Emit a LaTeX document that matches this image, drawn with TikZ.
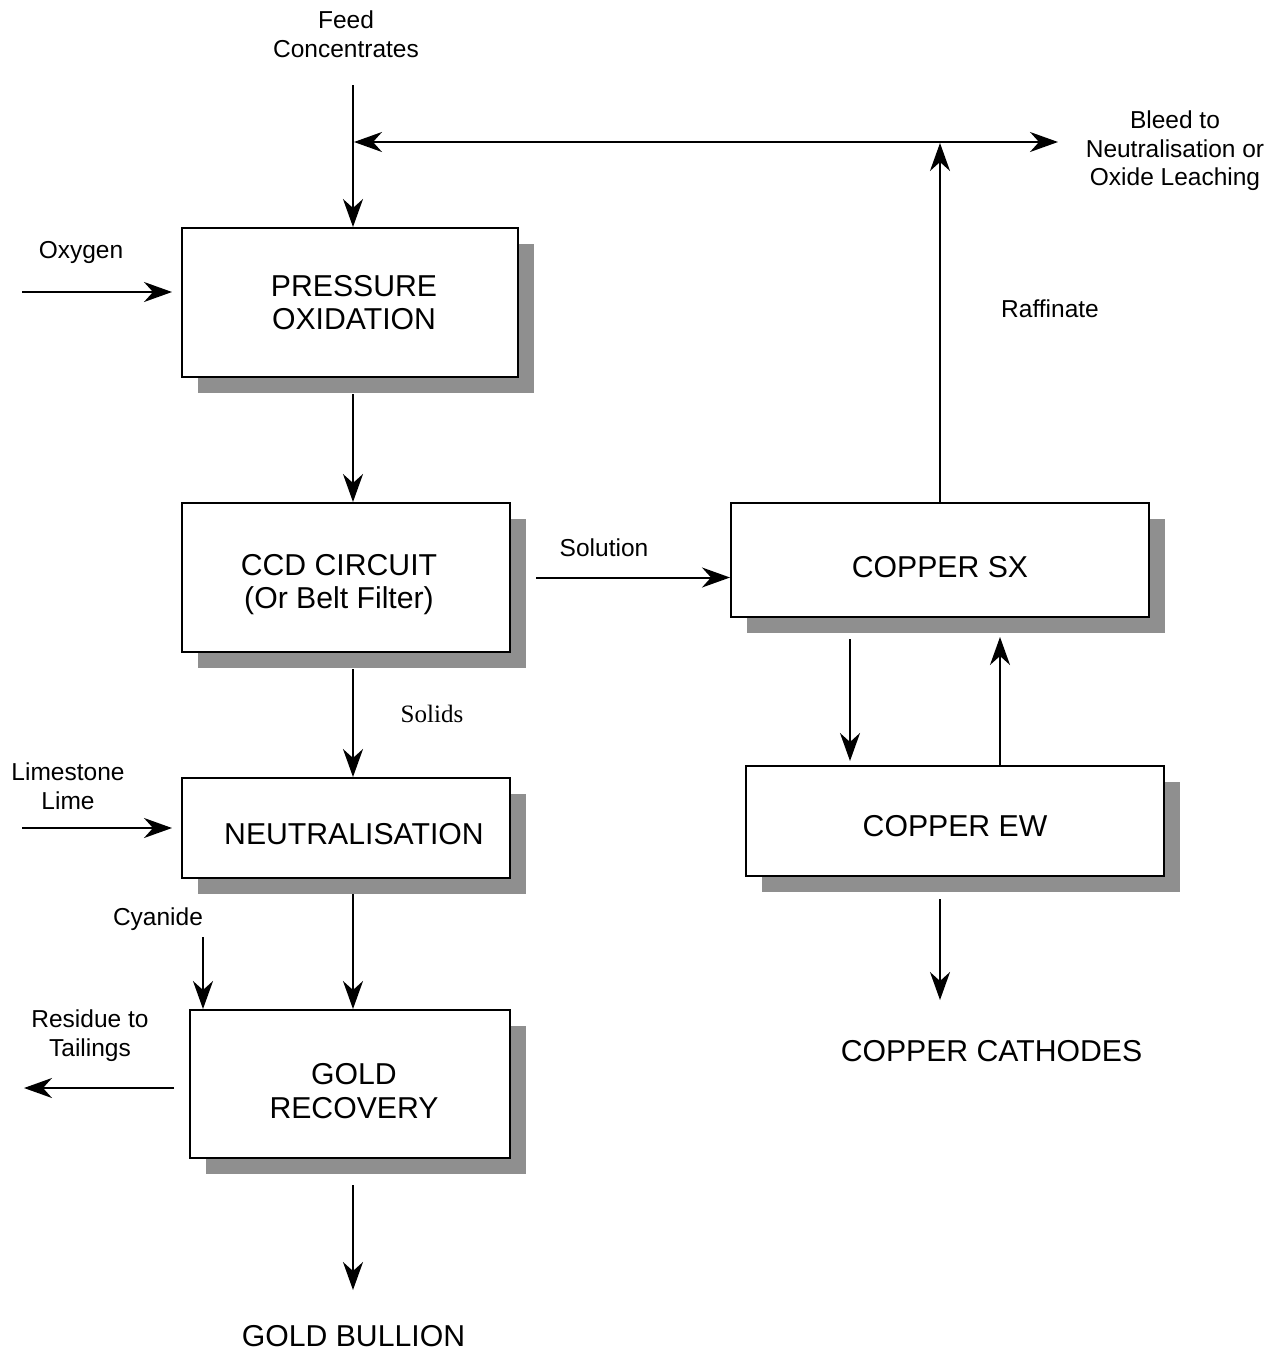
\documentclass[tikz,border=0pt]{standalone}
\usepackage{fontspec}
\setmainfont{Liberation Sans}
\newfontfamily\timesfont{Liberation Serif}
\usetikzlibrary{arrows.meta,shadows}
\definecolor{shadowgray}{HTML}{8F8F8F}
\newcommand\unitfont{\fontsize{30.2}{33.5}\selectfont}
\newcommand\tagfont{\fontsize{24.5}{28.5}\selectfont}
\begin{document}
\begin{tikzpicture}[x=1pt,y=-1pt,
  flowtip/.tip={Stealth[length=28pt,width=20pt,inset=9pt]},
  unit/.style={draw, line width=2pt, fill=white, inner sep=0pt,
    drop shadow={shadow xshift=16pt, shadow yshift=-16pt, fill=shadowgray, opacity=1}},
  unittext/.style={align=center, font=\unitfont, inner sep=0pt},
  flow/.style={line width=2pt, -flowtip},
  twoway/.style={line width=2pt, flowtip-flowtip},
  tag/.style={font=\tagfont, align=center, inner sep=0pt}]
\useasboundingbox (0,0) rectangle (1282,1350);

% process units
\node[unit, minimum width=336pt, minimum height=149pt] (po)   at (350,302.5) {};
\node[unit, minimum width=328pt, minimum height=149pt] (ccd)  at (346,577.5) {};
\node[unit, minimum width=328pt, minimum height=100pt] (neut) at (346,828)   {};
\node[unit, minimum width=320pt, minimum height=148pt] (gold) at (350,1084)  {};
\node[unit, minimum width=418pt, minimum height=114pt] (sx)   at (940,560)   {};
\node[unit, minimum width=418pt, minimum height=110pt] (ew)   at (955,821)   {};

% unit names
\node[unittext] (po-t)   at (354,302.5) {PRESSURE\\OXIDATION};
\node[unittext] (ccd-t)  at (339,584.5) {CCD CIRCUIT\\(Or Belt Filter)};
\node[unittext] (neut-t) at (354,834)   {NEUTRALISATION};
\node[unittext] (gold-t) at (354,1091)  {GOLD\\RECOVERY};
\node[unittext] (sx-t)   at (940,567)   {COPPER SX};
\node[unittext] (ew-t)   at (955,826)   {COPPER EW};

% stream labels
\node[tag, anchor=north] (feed)  at (346,11)   {Feed\\Concentrates};
\node[tag, anchor=north] (bleed) at (1175,111) {Bleed to\\Neutralisation or\\Oxide Leaching};
\node[tag, anchor=base]  (oxy)   at (81,258)   {Oxygen};
\node[tag, anchor=base]  (raff)  at (1050,317) {Raffinate};
\node[tag, anchor=base]  (sol)   at (604,556)  {Solution};
\node[tag, anchor=base, font=\timesfont\fontsize{25}{29}\selectfont] (solids) at (432,722) {Solids};
\node[tag, anchor=north] (lime)  at (68,763)   {Limestone\\Lime};
\node[tag, anchor=base]  (cyan)  at (158,925)  {Cyanide};
\node[tag, anchor=north] (res)   at (90,1010)  {Residue to\\Tailings};
\node[anchor=base, font=\unitfont, inner sep=0pt] (bullion)  at (353.5,1346) {GOLD BULLION};
\node[anchor=base, font=\unitfont, inner sep=0pt] (cathodes) at (991.5,1061) {COPPER CATHODES};

% free ends of the streams
\coordinate (feedtop)  at (353,85);
\coordinate (merge)    at (353,142);
\coordinate (bleedend) at (1058,142);
\coordinate (o2in)     at (22,292);
\coordinate (limein)   at (22,828);
\coordinate (cyin)     at (203,937);
\coordinate (resout)   at (24,1088);
\coordinate (main)     at (353,0);
\coordinate (sxdown)   at (850,0);
\coordinate (sxup)     at (1000,0);
\coordinate (bullend)  at (353,1290);
\coordinate (cathend)  at (940,1000);

% streams
\draw[flow] (feedtop) -- (feedtop |- po.north);
\draw[twoway, shorten <=1pt] (merge) -- (bleedend);
\draw[flow, shorten >=1pt] (sx.north) -- (sx.north |- merge);
\draw[flow, shorten >=9pt] (o2in) -- (o2in -| po.west);
\draw[flow, shorten <=16pt] (po.south -| main) -- (ccd.north -| main);
\draw[flow, shorten <=25pt] (ccd.east) -- (ccd.east -| sx.west);
\draw[flow, shorten <=16pt] (ccd.south -| main) -- (neut.north -| main);
\draw[flow, shorten >=9pt] (limein) -- (limein -| neut.west);
\draw[flow, shorten <=15pt] (neut.south -| main) -- (gold.north -| main);
\draw[flow] (cyin) -- (cyin |- gold.north);
\draw[flow, shorten <=15pt] (gold.west |- resout) -- (resout);
\draw[flow, shorten <=26pt] (gold.south -| main) -- (bullend);
\draw[flow, shorten <=21pt, shorten >=4pt] (sx.south -| sxdown) -- (ew.north -| sxdown);
\draw[flow, shorten >=19pt] (ew.north -| sxup) -- (sx.south -| sxup);
\draw[flow, shorten <=22pt] (ew.south -| cathend) -- (cathend);
\end{tikzpicture}
\end{document}
